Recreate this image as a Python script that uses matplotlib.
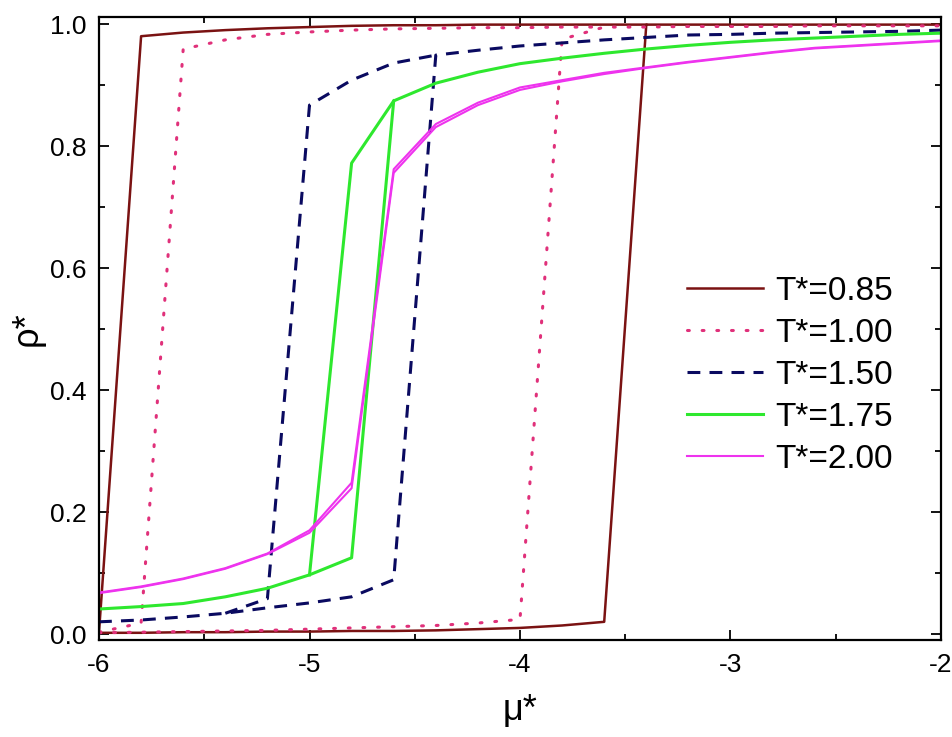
import matplotlib
matplotlib.use("Agg")
import matplotlib.pyplot as plt
from matplotlib.ticker import MultipleLocator, FormatStrFormatter

plt.rcParams['font.family'] = ['Liberation Sans', 'DejaVu Sans']
plt.rcParams['axes.unicode_minus'] = False

# chemical potential grid (adsorption branch, increasing mu)
mu = [-6.0, -5.8, -5.6, -5.4, -5.2, -5.0, -4.8, -4.6, -4.4, -4.2, -4.0,
      -3.8, -3.6, -3.4, -3.2, -3.0, -2.8, -2.6, -2.4, -2.2, -2.0]

# T* = 0.85
rho085_ads = [0.002, 0.002, 0.003, 0.003, 0.004, 0.004, 0.005, 0.005, 0.006, 0.008, 0.010,
              0.014, 0.020, 0.999, 0.999, 0.999, 0.999, 0.999, 0.999, 0.999, 0.999]
mu085_des = [-6.0, -5.8, -5.6, -5.4, -5.2, -5.0, -4.8, -4.6, -4.4, -4.2, -4.0, -3.8, -3.6, -3.4]
rho085_des = [0.003, 0.980, 0.986, 0.990, 0.993, 0.995, 0.997, 0.998, 0.998, 0.999, 0.999,
              0.999, 0.999, 0.999]

# T* = 1.00
rho100_ads = [0.002, 0.003, 0.004, 0.005, 0.006, 0.008, 0.010, 0.012, 0.014, 0.018, 0.024,
              0.975, 0.995, 0.995, 0.996, 0.996, 0.996, 0.997, 0.997, 0.997, 0.997]
mu100_des = [-6.0, -5.8, -5.6, -5.4, -5.2, -5.0, -4.8, -4.6, -4.4, -4.2, -4.0, -3.8, -3.6]
rho100_des = [0.003, 0.018, 0.959, 0.974, 0.983, 0.987, 0.990, 0.992, 0.993, 0.994, 0.994,
              0.995, 0.995]

# T* = 1.50
rho150_ads = [0.020, 0.023, 0.028, 0.034, 0.043, 0.051, 0.061, 0.089, 0.949, 0.957, 0.964,
              0.969, 0.974, 0.978, 0.982, 0.983, 0.985, 0.986, 0.987, 0.988, 0.990]
mu150_des = [-5.4, -5.2, -5.0, -4.8, -4.6, -4.4]
rho150_des = [0.034, 0.058, 0.867, 0.908, 0.936, 0.949]

# T* = 1.75
rho175_ads = [0.041, 0.045, 0.050, 0.061, 0.075, 0.097, 0.125, 0.874, 0.903, 0.921, 0.935,
              0.944, 0.952, 0.959, 0.965, 0.970, 0.974, 0.977, 0.980, 0.983, 0.985]
mu175_des = [-5.0, -4.8, -4.6]
rho175_des = [0.097, 0.772, 0.874]

# T* = 2.00
rho200_ads = [0.067, 0.077, 0.090, 0.107, 0.131, 0.166, 0.239, 0.756, 0.831, 0.867, 0.892,
              0.906, 0.918, 0.928, 0.937, 0.945, 0.953, 0.960, 0.964, 0.968, 0.972]
mu200_des = mu
rho200_des = [0.068, 0.078, 0.091, 0.108, 0.132, 0.170, 0.248, 0.762, 0.836, 0.871, 0.896,
              0.908, 0.920, 0.929, 0.938, 0.946, 0.954, 0.961, 0.965, 0.969, 0.973]

labels = ['T*=0.85', 'T*=1.00', 'T*=1.50', 'T*=1.75', 'T*=2.00']
colors = ['#7A1212', '#E0307A', '#0A0A60', '#2EE82E', '#EE33EE']

fig = plt.figure(figsize=(9.52, 7.37), dpi=100)
ax = fig.add_axes([99/952, 1-640/737, 842/952, 623/737])

series = [(rho085_ads, mu085_des, rho085_des),
          (rho100_ads, mu100_des, rho100_des),
          (rho150_ads, mu150_des, rho150_des),
          (rho175_ads, mu175_des, rho175_des),
          (rho200_ads, mu200_des, rho200_des)]
styles = [dict(lw=1.8, ls='-'),
          dict(lw=2.2, ls=(0, (0.6, 4.2)), dash_capstyle='round'),
          dict(lw=2.2, ls=(0, (4.2, 3.0))),
          dict(lw=2.2, ls='-'),
          dict(lw=1.5, ls='-')]

for (ads, mdes, des), lab, c, st in zip(series, labels, colors, styles):
    ax.plot(mu, ads, color=c, label=lab, **st)
    ax.plot(mdes, des, color=c, **st)

ax.set_xlim(-6, -2)
ax.set_ylim(-0.0098, 1.0115)
ax.xaxis.set_major_locator(MultipleLocator(1))
ax.xaxis.set_minor_locator(MultipleLocator(0.5))
ax.yaxis.set_major_locator(MultipleLocator(0.2))
ax.yaxis.set_minor_locator(MultipleLocator(0.1))
ax.yaxis.set_major_formatter(FormatStrFormatter('%.1f'))
ax.xaxis.set_major_formatter(FormatStrFormatter('%d'))

ax.tick_params(which='both', direction='in', top=True, right=True, width=1.3, labelsize=19)
ax.tick_params(which='major', length=7)
ax.tick_params(which='minor', length=4)
ax.tick_params(axis='y', pad=9)
ax.tick_params(axis='x', pad=9)
for s in ax.spines.values():
    s.set_linewidth(1.6)

ax.set_xlabel('μ*', fontsize=26, labelpad=12)
ax.set_ylabel('ρ*', fontsize=26, labelpad=4)

leg = ax.legend(loc='upper left', bbox_to_anchor=(0.698, 0.585), frameon=False,
                fontsize=24, handlelength=2.3, handletextpad=0.35,
                labelspacing=0.33, borderpad=0, borderaxespad=0)

fig.savefig('out.png', dpi=100)
